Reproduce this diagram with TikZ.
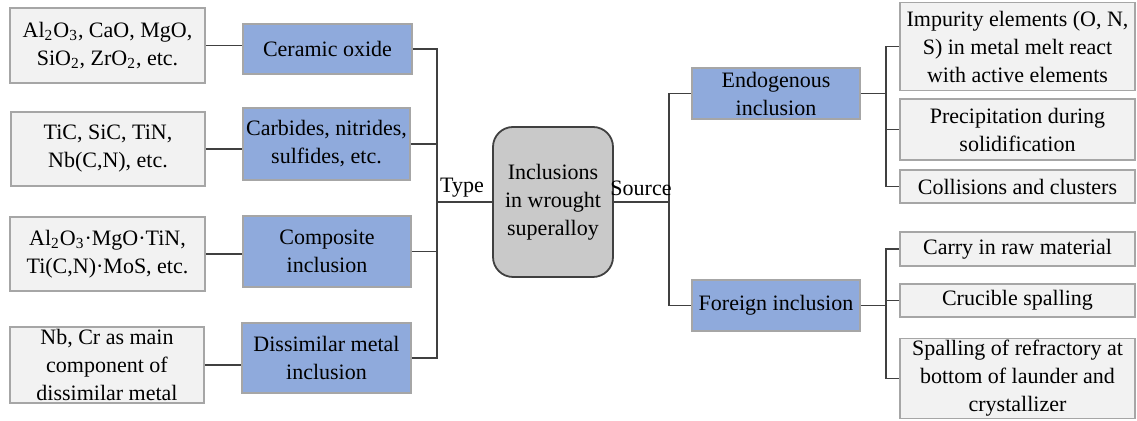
\documentclass[tikz,border=0pt]{standalone}
\usepackage{fontspec}
\setmainfont{Liberation Serif}
\definecolor{kindblue}{HTML}{8FAADC}
\definecolor{boxgray}{HTML}{F2F2F2}
\definecolor{rimgray}{HTML}{A6A6A6}
\definecolor{rootgray}{HTML}{C9C9C9}
\definecolor{linegray}{HTML}{404040}
\tikzset{
  example/.style={draw=rimgray, line width=0.8pt, fill=boxgray, align=center, inner sep=0pt},
  kind/.style={draw=rimgray, line width=0.8pt, fill=kindblue, align=center, inner sep=0pt},
  cause/.style={draw=rimgray, line width=0.8pt, fill=boxgray, align=center, inner sep=0pt},
  root/.style={draw=linegray, line width=0.9pt, fill=rootgray, rounded corners=10pt, align=center, inner sep=0pt},
  wire/.style={draw=linegray, line width=0.6pt}
}
\begin{document}
\begin{tikzpicture}[x=0.5pt, y=-0.5pt, font=\fontsize{11}{14}\selectfont]
\useasboundingbox (0,0) rectangle (1137,421);

% examples on the left
\node[example, minimum width=97.5pt, minimum height=37.5pt] (ex1) at (107.5,45.5) {Al\textsubscript{2}O\textsubscript{3}, CaO, MgO,\\SiO\textsubscript{2}, ZrO\textsubscript{2}, etc.};
\node[example, minimum width=97pt, minimum height=37pt] (ex2) at (108,149) {TiC, SiC, TiN,\\Nb(C,N), etc.};
\node[example, minimum width=97.5pt, minimum height=37pt] (ex3) at (107.5,254) {Al\textsubscript{2}O\textsubscript{3}·MgO·TiN,\\Ti(C,N)·MoS, etc.};
\node[example, minimum width=97pt, minimum height=38pt] (ex4) at (107,365) {Nb, Cr as main\\component of\\dissimilar metal};

% types
\node[kind, minimum width=84.5pt, minimum height=25pt] (oxide) at (327.5,49) {Ceramic oxide};
\node[kind, minimum width=83.5pt, minimum height=36pt] (carbide) at (326.5,144) {Carbides, nitrides,\\sulfides, etc.};
\node[kind, minimum width=84pt, minimum height=35.5pt] (composite) at (327,251.5) {Composite\\inclusion};
\node[kind, minimum width=84.5pt, minimum height=35pt] (dissimilar) at (326.5,358) {Dissimilar metal\\inclusion};

% centre
\node[root, minimum width=60pt, minimum height=75pt] (root) at (553,202) {Inclusions\\in wrought\\superalloy};

% sources
\node[kind, minimum width=84pt, minimum height=25.5pt] (endo) at (776,93.5) {Endogenous\\inclusion};
\node[kind, minimum width=84pt, minimum height=25.5pt] (foreign) at (776,305.5) {Foreign inclusion};

% causes on the right
\node[cause, minimum width=117.5pt, minimum height=44pt] (react) at (1017.5,46.5) {Impurity elements (O, N,\\S) in metal melt react\\with active elements};
\node[cause, minimum width=117.5pt, minimum height=30.5pt] (precip) at (1017.5,129.5) {Precipitation during\\solidification};
\node[cause, minimum width=117.5pt, minimum height=16.5pt] (collide) at (1017.5,186.5) {Collisions and clusters};
\node[cause, minimum width=117.5pt, minimum height=17pt] (raw) at (1017.5,249) {Carry in raw material};
\node[cause, minimum width=117.5pt, minimum height=16.5pt] (crucible) at (1017.5,300.5) {Crucible spalling};
\node[cause, minimum width=117.5pt, minimum height=40pt] (refract) at (1017.5,378.5) {Spalling of refractory at\\bottom of launder and\\crystallizer};

% buses
\coordinate (typebus) at (437,202);
\coordinate (srcbus) at (669,202);
\coordinate (endobus) at (886,93.5);
\coordinate (forbus) at (886,305.5);

\draw[wire] (ex1.east) -- (ex1.east -| oxide.west);
\draw[wire] (ex2.east) -- (ex2.east -| carbide.west);
\draw[wire] (ex3.east) -- (ex3.east -| composite.west);
\draw[wire] (ex4.east) -- (ex4.east -| dissimilar.west);

\draw[wire] (oxide.east) -| (typebus);
\draw[wire] (carbide.east) -| (typebus);
\draw[wire] (composite.east) -| (typebus);
\draw[wire] (dissimilar.east) -| (typebus);
\draw[wire] (typebus) -- (root.west);

\draw[wire] (root.east) -- (srcbus);
\draw[wire] (srcbus) |- (endo.west);
\draw[wire] (srcbus) |- (foreign.west);

\draw[wire] (endo.east) -- (endobus);
\draw[wire] (endobus) |- (react.west);
\draw[wire] (endobus) |- (precip.west);
\draw[wire] (endobus) |- (collide.west);

\draw[wire] (foreign.east) -- (forbus);
\draw[wire] (forbus) |- (raw.west);
\draw[wire] (forbus) |- (crucible.west);
\draw[wire] (forbus) |- (refract.west);

\node (type) at (462,188) {Type};
\node (source) at (641,188) {Source};
\end{tikzpicture}
\end{document}
